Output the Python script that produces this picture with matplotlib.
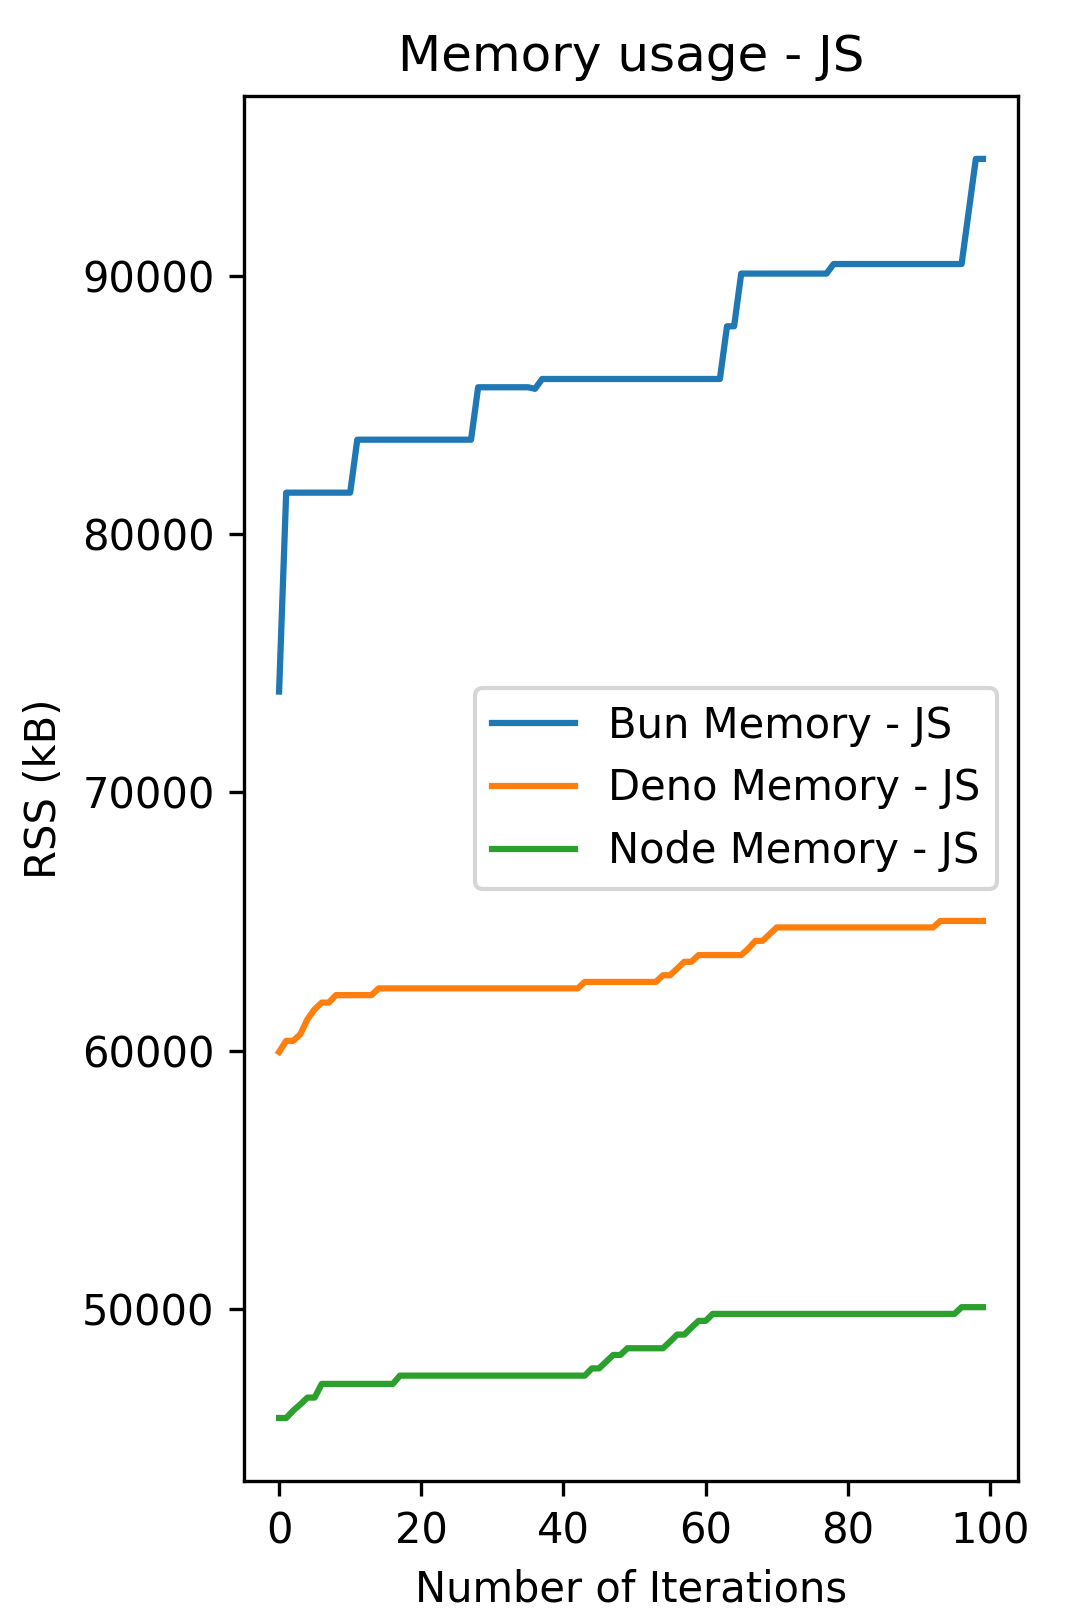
import matplotlib
matplotlib.use("Agg")
import matplotlib.pyplot as plt
import numpy as np

iterations = list(range(100))

# Bun values by run-length segments (value, count)
bun_segments = [(73900, 1), (81600, 10), (83650, 17), (85680, 8), (85620, 1),
                (86000, 26), (88040, 2), (90080, 13), (90450, 19), (92490, 1), (94520, 2)]
deno_segments = [(59950, 1), (60380, 2), (60640, 1), (61220, 1), (61600, 1), (61860, 2),
                 (62150, 6), (62410, 29), (62660, 11), (62920, 2), (63180, 1), (63440, 2),
                 (63700, 7), (63950, 1), (64250, 2), (64510, 1), (64770, 23), (65020, 7)]
node_segments = [(45780, 2), (46070, 1), (46310, 1), (46570, 2), (47100, 11), (47420, 27),
                 (47700, 2), (47960, 1), (48220, 2), (48480, 6), (48740, 1), (49010, 2),
                 (49280, 1), (49540, 2), (49810, 35), (50070, 4)]


def expand(segments):
    out = []
    for v, n in segments:
        out.extend([v] * n)
    return out


bun = expand(bun_segments)
deno = expand(deno_segments)
node = expand(node_segments)

labels = ["Bun Memory - JS", "Deno Memory - JS", "Node Memory - JS"]

fig = plt.figure(figsize=(1065 / 300, 1615 / 300), dpi=300)
ax = fig.add_axes([0.229, 0.083, 0.956 - 0.229, 0.9406 - 0.083])
ax.plot(iterations, bun, label=labels[0])
ax.plot(iterations, deno, label=labels[1])
ax.plot(iterations, node, label=labels[2])
ax.set_title("Memory usage - JS")
ax.set_xlabel("Number of Iterations")
ax.set_ylabel("RSS (kB)")
ax.legend(loc="center right")
fig.savefig("out.png", dpi=300)
